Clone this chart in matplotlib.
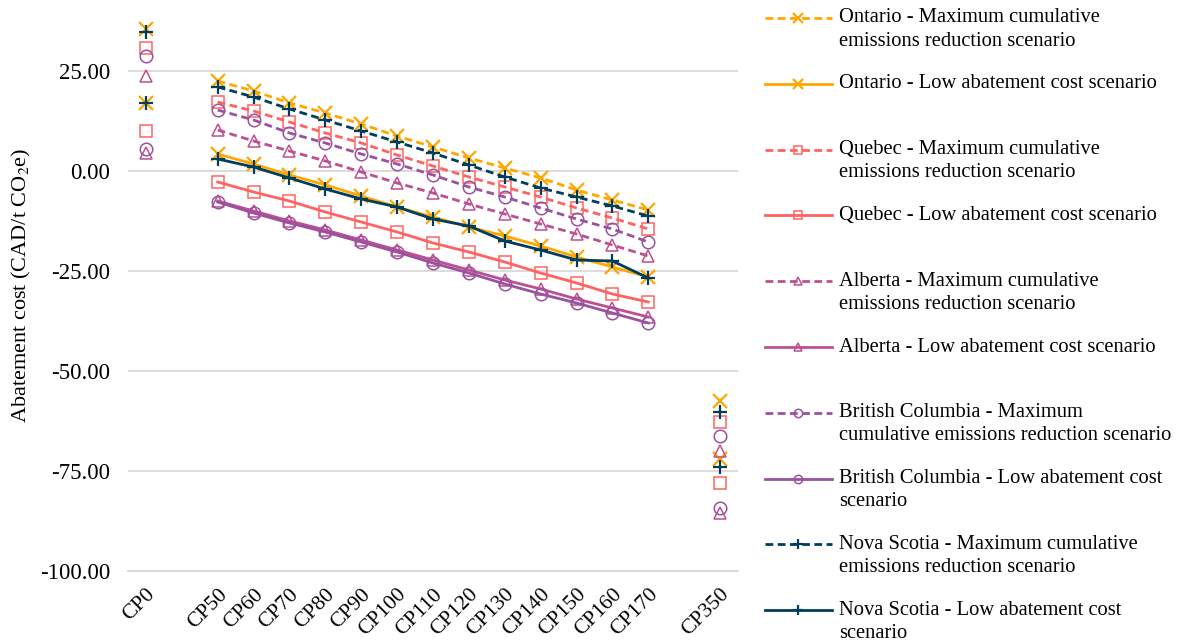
import numpy as np
import matplotlib
matplotlib.use('Agg')
import matplotlib.pyplot as plt
from matplotlib.lines import Line2D
from matplotlib.ticker import FuncFormatter

plt.rcParams['font.family'] = ['Liberation Serif', 'DejaVu Serif']
plt.rcParams['mathtext.fontset'] = 'stix'

NaN = np.nan
categories = ['CP0', '', 'CP50', 'CP60', 'CP70', 'CP80', 'CP90', 'CP100', 'CP110',
              'CP120', 'CP130', 'CP140', 'CP150', 'CP160', 'CP170', '', 'CP350']

ontario_max = [35.5, NaN, 22.5, 20.0, 17.0, 14.5, 11.75, 8.75, 6.0, 3.25, 0.75, -1.75, -4.75, -7.25, -9.75, NaN, -57.5]
ontario_low = [17.0, NaN, 4.25, 1.75, -1.0, -3.5, -6.25, -9.0, -11.5, -14.0, -16.25, -18.75, -21.5, -24.0, -26.5, NaN, -72.0]
quebec_max = [30.75, NaN, 17.25, 15.0, 12.25, 9.5, 7.0, 4.0, 1.25, -1.5, -4.0, -6.5, -9.25, -11.75, -14.5, NaN, -62.75]
quebec_low = [10.0, NaN, -2.75, -5.25, -7.5, -10.25, -12.75, -15.25, -18.0, -20.25, -22.75, -25.5, -28.0, -30.75, -32.75, NaN, -78.0]
alberta_max = [23.75, NaN, 10.25, 7.5, 5.0, 2.5, -0.25, -3.0, -5.5, -8.25, -10.75, -13.25, -15.75, -18.5, -21.25, NaN, -70.0]
alberta_low = [4.5, NaN, -7.5, -10.0, -12.5, -14.75, -17.25, -19.75, -22.25, -24.75, -27.25, -29.5, -32.0, -34.25, -36.5, NaN, -85.5]
bc_max = [28.75, NaN, 15.25, 12.75, 9.5, 7.0, 4.25, 1.75, -1.0, -4.0, -6.5, -9.25, -12.0, -14.5, -17.75, NaN, -66.25]
bc_low = [5.5, NaN, -7.75, -10.5, -13.0, -15.25, -17.75, -20.25, -23.0, -25.5, -28.25, -30.75, -33.0, -35.5, -38.0, NaN, -84.25]
ns_max = [34.75, NaN, 21.0, 18.5, 15.5, 12.75, 10.0, 7.25, 4.5, 1.5, -1.5, -4.25, -6.5, -8.75, -11.25, NaN, -60.25]
ns_low = [17.0, NaN, 3.0, 1.0, -1.75, -4.5, -7.0, -9.0, -12.0, -13.75, -17.5, -19.75, -22.25, -22.5, -26.75, NaN, -74.0]

# (label lines, values, colour, marker, dashed)
series = [
    (['Ontario - Maximum cumulative', 'emissions reduction scenario'], ontario_max, '#FFA600', 'x', True),
    (['Ontario - Low abatement cost scenario'], ontario_low, '#FFA600', 'x', False),
    (['Quebec - Maximum cumulative', 'emissions reduction scenario'], quebec_max, '#FF6361', 's', True),
    (['Quebec - Low abatement cost scenario'], quebec_low, '#FF6361', 's', False),
    (['Alberta - Maximum cumulative', 'emissions reduction scenario'], alberta_max, '#BC5090', '^', True),
    (['Alberta - Low abatement cost scenario'], alberta_low, '#BC5090', '^', False),
    (['British Columbia - Maximum', 'cumulative emissions reduction scenario'], bc_max, '#9A52A0', 'o', True),
    (['British Columbia - Low abatement cost', 'scenario'], bc_low, '#9A52A0', 'o', False),
    (['Nova Scotia - Maximum cumulative', 'emissions reduction scenario'], ns_max, '#003F5C', '+', True),
    (['Nova Scotia - Low abatement cost', 'scenario'], ns_low, '#003F5C', '+', False),
]

W, H = 1178, 644
fig = plt.figure(figsize=(W / 100, H / 100), dpi=100)
ax = fig.add_axes([128 / W, 1 - 571 / H, (738 - 128) / W, 571 / H])

x = np.arange(len(categories))
DASH = (0, (2.8, 1.6))


def marker_kw(m, size=10):
    if m in ('x', '+'):
        return dict(marker=m, markersize=size, markeredgewidth=1.6)
    return dict(marker=m, markersize=size - 1, markerfacecolor='none', markeredgewidth=1.1)


for lab, vals, col, m, dashed in series:
    ax.plot(x, np.array(vals, dtype=float), color=col, lw=2.0,
            ls=DASH if dashed else '-', markeredgecolor=col, **marker_kw(m))

ax.set_xlim(-0.5, len(categories) - 0.5)
ax.set_ylim(-100, 42.75)
ax.set_yticks([-100, -75, -50, -25, 0, 25])
ax.yaxis.set_major_formatter(FuncFormatter(lambda v, p: f'{v:.2f}'))
ax.set_xticks(x)
ax.set_xticklabels(categories, rotation=45, ha='right', rotation_mode='anchor')
ax.tick_params(axis='both', length=0)
ax.tick_params(axis='y', pad=13, labelsize=16.5)
ax.tick_params(axis='x', pad=10, labelsize=15.5)
ax.grid(axis='y', color='#D9D9D9', lw=1.3)
ax.set_axisbelow(True)
for s in ('top', 'right', 'left'):
    ax.spines[s].set_visible(False)
ax.spines['bottom'].set_color('#D9D9D9')
ax.spines['bottom'].set_linewidth(1.3)
ax.set_ylabel('Abatement cost (CAD/t CO$_2$e)', fontsize=16, labelpad=5)

# legend drawn by hand so each handle sits on the first text line
y0, dy = 18, 65.8
for i, (lab, vals, col, m, dashed) in enumerate(series):
    yc = 1 - (y0 + i * dy) / H
    fig.add_artist(Line2D([765 / W, 832 / W], [yc, yc], transform=fig.transFigure,
                          color=col, lw=2.0, ls=DASH if dashed else '-'))
    fig.add_artist(Line2D([798 / W], [yc], transform=fig.transFigure, color=col,
                          markeredgecolor=col, **marker_kw(m, 7)))
    for j, line in enumerate(lab):
        fig.text(839 / W, 1 - (y0 + i * dy + j * 23) / H, line, fontsize=14.8,
                 va='center', ha='left')

fig.savefig('out.png', dpi=100)
